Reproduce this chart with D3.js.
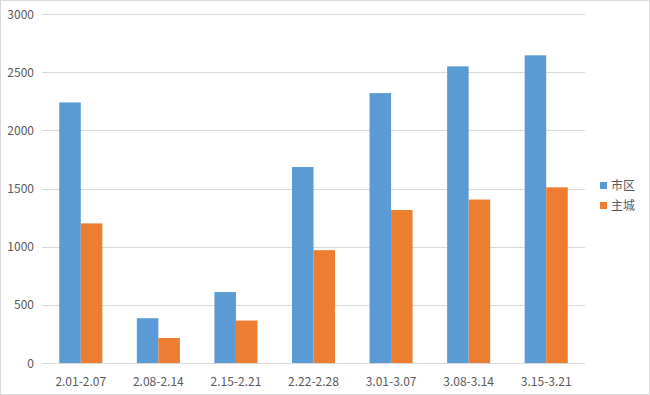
<!DOCTYPE html>
<html>
<head>
<meta charset="utf-8">
<script src="https://cdn.jsdelivr.net/npm/d3@7"></script>
<style>
  body { margin: 0; background: #fff; }
  svg { display: block; font-family: "Microsoft YaHei", "Noto Sans CJK SC", "Open Sans", sans-serif; }
</style>
</head>
<body>
<script>
var categories = ["2.01-2.07", "2.08-2.14", "2.15-2.21", "2.22-2.28", "3.01-3.07", "3.08-3.14", "3.15-3.21"];
var seriesNames = ["市区", "主城"];
var shiqu = [2240, 385, 610, 1685, 2320, 2550, 2645];
var zhucheng = [1200, 215, 365, 970, 1315, 1405, 1510];
var yTicks = [0, 500, 1000, 1500, 2000, 2500, 3000];
var colors = ["#5b9bd5", "#ed7d31"];

var width = 650;
var height = 395;
var margin = {top: 14, left: 42, right: 65, bottom: 32};

var svg = d3.select("body")
            .append("svg")
            .attr("width", width)
            .attr("height", height)

svg.append("rect")
   .attr("x", 0.5)
   .attr("y", 0.5)
   .attr("width", width - 1)
   .attr("height", height - 1)
   .attr("fill", "#fff")
   .attr("stroke", "#d9d9d9")

var xScale = d3.scaleBand()
               .domain(categories)
               .range([margin.left, width - margin.right])
               .paddingInner(0.445)
               .paddingOuter(0.2225)

var yScale = d3.scaleLinear()
               .domain([0, 3000])
               .range([height - margin.bottom, margin.top])

var inner = d3.scaleBand()
              .domain(seriesNames)
              .range([0, xScale.bandwidth()])

// gridlines
svg.append("g")
   .selectAll("line")
   .data(yTicks)
   .enter()
   .append("line")
   .attr("x1", margin.left)
   .attr("x2", width - margin.right)
   .attr("y1", function(d) {return Math.round(yScale(d)) + 0.5;})
   .attr("y2", function(d) {return Math.round(yScale(d)) + 0.5;})
   .attr("stroke", "#d9d9d9")

// y labels
svg.append("g")
   .selectAll("text")
   .data(yTicks)
   .enter()
   .append("text")
   .attr("x", 34)
   .attr("y", function(d) {return yScale(d) + 4.5;})
   .attr("text-anchor", "end")
   .style("font-size", "12px")
   .attr("fill", "#595959")
   .text(function(d) {return d;})

// bars
var rows = categories.map(function(c, i) {
  return {cat: c, values: [shiqu[i], zhucheng[i]]};
})

var groups = svg.append("g")
   .selectAll("g")
   .data(rows)
   .enter()
   .append("g")
   .attr("transform", function(d) {return "translate(" + xScale(d.cat) + ",0)";})

groups.selectAll("rect")
   .data(function(d) {return d.values.map(function(v, j) {return {name: seriesNames[j], v: v, j: j};});})
   .enter()
   .append("rect")
   .attr("x", function(d) {return inner(d.name);})
   .attr("y", function(d) {return yScale(d.v);})
   .attr("width", inner.bandwidth())
   .attr("height", function(d) {return yScale(0) - yScale(d.v);})
   .attr("fill", function(d) {return colors[d.j];})

// x labels
svg.append("g")
   .selectAll("text")
   .data(categories)
   .enter()
   .append("text")
   .attr("x", function(d) {return xScale(d) + xScale.bandwidth() / 2;})
   .attr("y", 386)
   .attr("text-anchor", "middle")
   .style("font-size", "12px")
   .attr("fill", "#595959")
   .text(function(d) {return d;})

// legend
var legend = svg.append("g")
   .selectAll("g")
   .data(seriesNames)
   .enter()
   .append("g")
   .attr("transform", function(d, i) {return "translate(600," + (182 + i * 20) + ")";})

legend.append("rect")
   .attr("width", 7)
   .attr("height", 7)
   .attr("fill", function(d, i) {return colors[i];})

legend.append("text")
   .attr("x", 11)
   .attr("y", 8)
   .style("font-size", "12px")
   .attr("fill", "#595959")
   .text(function(d) {return d;})
</script>
</body>
</html>
